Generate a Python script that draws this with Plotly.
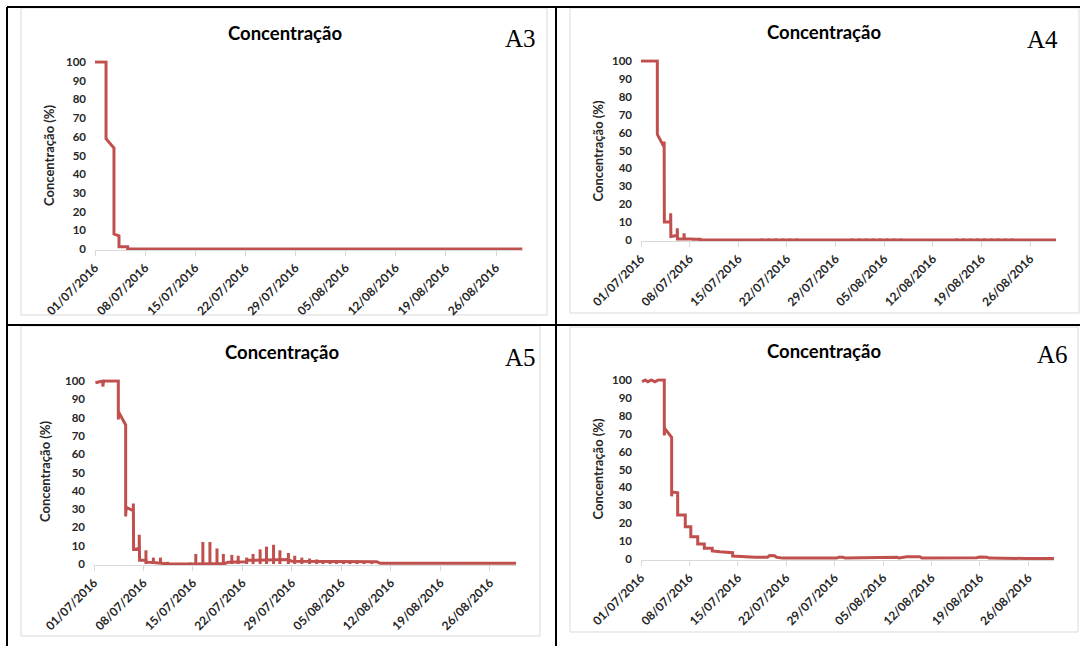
import pandas as pd
import plotly.graph_objects as go

W, H = 1080, 646
START = pd.Timestamp("2016-07-01")
LAST_DAY = 59.7          # last sample (days after 01/07/2016)
Y_TICKS = [0, 10, 20, 30, 40, 50, 60, 70, 80, 90, 100]
TITLE = "Concentração"
Y_TITLE = "Concentração (%)"
LINE_COLOR = "#C0504D"

# ---------------- A3 ----------------
a3_days = [0.0, 1.54, 1.54, 2.65, 2.65, 3.35, 3.35, 4.56, 4.56, 59.7]
a3_vals = [100, 100, 59, 54, 8, 7, 1.2, 1.2, 0, 0]
a3_spike_days = []
a3_spike_peaks = []

# ---------------- A4 ----------------
a4_days = [0.0, 2.35, 2.35, 3.30, 3.33, 3.36, 4.25, 4.27, 4.30, 5.20, 5.22,
           5.25, 6.18, 6.20, 6.23, 7.45, 7.47, 7.50, 8.50, 8.50, 59.7]
a4_vals = [100, 100, 59, 52, 55, 10, 10, 15, 2, 2.5, 6.5,
           0.6, 0.6, 3.7, 0.5, 0.5, 1.2, 0.4, 0.4, 0, 0]
a4_spike_days = [17.4, 18.4, 19.4, 20.4, 21.4, 22.4, 30.4, 31.4, 32.4, 33.4,
                 34.4, 35.4, 36.4, 37.4, 45.4, 46.4, 47.4, 48.4, 49.4, 50.4,
                 51.4, 52.4, 53.4]
a4_spike_peaks = [0.8, 0.8, 0.8, 0.8, 0.8, 0.8, 0.8, 0.8, 0.8, 0.8,
                  0.8, 0.8, 0.8, 0.8, 0.8, 0.8, 0.8, 0.8, 0.8, 0.8,
                  0.8, 0.8, 0.8]

# ---------------- A5 ----------------
a5_days = [0.2, 1.25, 1.25, 1.35, 3.44, 3.44, 3.50, 4.48, 4.48, 4.55,
           5.57, 5.57, 5.60, 6.40, 6.40, 6.45, 7.35, 7.40, 8.40, 9.40,
           10.60, 14.0, 18.5, 19.0, 21.5, 21.6, 27.5, 28.0, 34.0, 40.0,
           40.5, 59.7]
a5_vals = [99, 100, 97, 100, 100, 79, 83, 76, 26, 31,
           29, 33, 8, 8.5, 16, 2, 2, 1, 0.8, 0.5,
           0, 0, 0.3, 1, 1.2, 2, 2.5, 1.5, 1.5, 1.2,
           0.4, 0.4]
a5_spike_days = [7.35, 8.4, 9.4, 10.4, 13.6, 14.4, 15.4, 16.4, 17.4, 18.3,
                 19.5, 20.4, 21.6, 22.5, 23.5, 24.4, 25.4, 26.3, 27.5, 28.4,
                 29.4, 30.5, 31.5, 32.4, 33.4, 34.3, 35.3, 36.2, 37.2, 38.2,
                 39.3, 42.3, 43.3, 44.5, 45.4, 46.6, 52.7, 53.9, 55.1, 56.2,
                 57.4, 58.6, 59.5]
a5_spike_peaks = [7.5, 3.5, 3.5, 1.2, 0.8, 5.5, 12, 12, 8.5, 5.5,
                  5, 4.5, 3.5, 5.5, 8, 9.5, 10.5, 7.5, 6, 4.5,
                  3.5, 3, 2.5, 2.2, 2.2, 1.8, 1.8, 1.8, 1.8, 1.4,
                  1.2, 0.9, 1.1, 1.1, 0.9, 0.9, 0.9, 0.9, 1.1, 1.1,
                  1.1, 1.1, 1.1]

# ---------------- A6 ----------------
a6_days = [0.15, 0.6, 1.0, 1.5, 2.0, 2.5, 3.37, 3.37, 3.42, 4.43,
           4.43, 4.48, 5.30, 5.30, 6.40, 6.40, 7.20, 7.20, 8.20, 8.20,
           9.15, 9.15, 10.30, 10.30, 11.40, 13.25, 13.25, 15.2, 16.5, 18.3,
           18.6, 19.3, 19.6, 20.5, 28.3, 28.6, 29.2, 29.5, 35.5, 36.0,
           37.0, 37.3, 38.4, 40.3, 40.6, 48.5, 49.0, 50.0, 50.3, 55.7,
           59.7]
a6_vals = [99, 100, 99, 100, 99, 100, 100, 69, 73, 68,
           35, 37.5, 37, 24.6, 24.6, 18, 18, 12.5, 12.5, 8.4,
           8.4, 6, 6, 4.5, 4, 3.5, 1.7, 1.2, 1.0, 1.0,
           2.0, 1.8, 1.0, 0.5, 0.5, 1, 1, 0.5, 0.6, 1,
           1, 0.6, 1.2, 1.3, 0.6, 0.7, 1.1, 1, 0.5, 0.3,
           0.3]
a6_spike_days = []
a6_spike_peaks = []


def to_dates(days):
    return [START + pd.Timedelta(days=d) for d in days]


# layout geometry (pixels): plot area, annotations, frames
panels = [
    dict(label="A3", days=a3_days, vals=a3_vals, sd=a3_spike_days, sp=a3_spike_peaks,
         x0=95, x1=522.5, y0=249, y100=62,
         title=(285, 33), lab=(520, 38), ytitle=(49, 155), frame=(21, 8, 547, 315)),
    dict(label="A4", days=a4_days, vals=a4_vals, sd=a4_spike_days, sp=a4_spike_peaks,
         x0=641, x1=1056, y0=240, y100=61,
         title=(824, 32), lab=(1042, 39), ytitle=(597.5, 151), frame=(570, 8, 1079, 313)),
    dict(label="A5", days=a5_days, vals=a5_vals, sd=a5_spike_days, sp=a5_spike_peaks,
         x0=94, x1=516, y0=564, y100=381,
         title=(282, 352), lab=(520, 357), ytitle=(45, 471), frame=(21, 326, 540, 636)),
    dict(label="A6", days=a6_days, vals=a6_vals, sd=a6_spike_days, sp=a6_spike_peaks,
         x0=641, x1=1054, y0=559, y100=380,
         title=(824, 351), lab=(1052, 354), ytitle=(597.5, 469), frame=(570, 327, 1078, 632)),
]

YMIN, YMAX = -0.6, 101.0
FONT = "Lato"
TICKFONT = dict(family=FONT, size=11.5, color="#262626", weight="bold")
XTICKFONT = dict(family=FONT, size=12, color="#262626", weight="bold")

fig = go.Figure()
annotations = []
shapes = []
layout = {}

x_end = START + pd.Timedelta(days=LAST_DAY)

for i, p in enumerate(panels):
    sfx = "" if i == 0 else str(i + 1)
    xref, yref = "x" + sfx, "y" + sfx

    fig.add_trace(go.Scatter(
        x=to_dates(p["days"]), y=p["vals"], mode="lines",
        line=dict(color=LINE_COLOR, width=3), xaxis=xref, yaxis=yref,
        showlegend=False, hoverinfo="skip"))
    if p["sd"]:
        sx, sy = [], []
        for d, pk in zip(p["sd"], p["sp"]):
            t = START + pd.Timedelta(days=d)
            sx += [t, t, None]
            sy += [0, pk, None]
        fig.add_trace(go.Scatter(
            x=sx, y=sy, mode="lines", line=dict(color=LINE_COLOR, width=3),
            xaxis=xref, yaxis=yref, showlegend=False, hoverinfo="skip"))

    ppu = (p["y0"] - p["y100"]) / 100.0
    ybot = p["y0"] - YMIN * ppu
    ytop = p["y100"] - (YMAX - 100) * ppu

    layout["xaxis" + sfx] = dict(
        domain=[p["x0"] / W, p["x1"] / W], anchor=yref, type="date",
        range=[START, x_end], tickformat="%d/%m/%Y", tick0=START,
        dtick=7 * 86400000, tickangle=-45, ticks="outside", ticklen=5,
        tickcolor="#d9d9d9", showline=True, linecolor="#d9d9d9", linewidth=1,
        showgrid=False, zeroline=False, tickfont=XTICKFONT, fixedrange=True,
        automargin=False)
    layout["yaxis" + sfx] = dict(
        domain=[1 - ybot / H, 1 - ytop / H], anchor=xref, range=[YMIN, YMAX],
        tickvals=Y_TICKS, ticks="", showline=False, showgrid=False,
        zeroline=False, tickfont=TICKFONT, ticklabelstandoff=8, fixedrange=True,
        automargin=False)

    tx, ty = p["title"]
    annotations.append(dict(text=TITLE, x=tx / W, y=1 - ty / H, xref="paper", yref="paper",
                            showarrow=False, xanchor="center", yanchor="middle",
                            font=dict(family=FONT, size=18.5, color="#000000", weight="bold")))
    lx, ly = p["lab"]
    annotations.append(dict(text=p["label"], x=lx / W, y=1 - ly / H, xref="paper", yref="paper",
                            showarrow=False, xanchor="center", yanchor="middle",
                            font=dict(family="Liberation Serif", size=25, color="#000000")))
    yx, yy = p["ytitle"]
    annotations.append(dict(text=Y_TITLE, x=yx / W, y=1 - yy / H, xref="paper", yref="paper",
                            showarrow=False, xanchor="center", yanchor="middle", textangle=-90,
                            font=dict(family=FONT, size=13, color="#262626", weight="bold")))
    fx0, fy0, fx1, fy1 = p["frame"]
    shapes.append(dict(type="rect", xref="paper", yref="paper",
                       x0=fx0 / W, x1=fx1 / W, y0=1 - fy1 / H, y1=1 - fy0 / H,
                       line=dict(color="#d9d9d9", width=1), fillcolor="rgba(0,0,0,0)", layer="below"))

# table grid lines (pixels)
table_lines = [(7, 7, 1080, 7), (7, 7, 7, 646), (556, 7, 556, 646), (7, 325, 1080, 325)]
for x0, y0, x1, y1 in table_lines:
    shapes.append(dict(type="line", xref="paper", yref="paper",
                       x0=x0 / W, x1=x1 / W, y0=1 - y0 / H, y1=1 - y1 / H,
                       line=dict(color="#000000", width=2)))

fig.update_layout(
    template="none",
    width=W, height=H, margin=dict(l=0, r=0, t=0, b=0, pad=0, autoexpand=False),
    paper_bgcolor="white", plot_bgcolor="white",
    annotations=annotations, shapes=shapes, **layout)

fig.write_html("out.html", config={"displayModeBar": False},
               post_script="document.body.style.margin='0';document.body.style.overflow='hidden';")
